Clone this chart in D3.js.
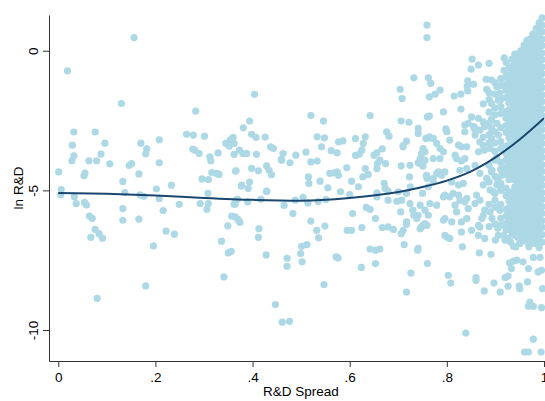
<!DOCTYPE html>
<html>
<head>
<meta charset="utf-8">
<script src="https://cdn.jsdelivr.net/npm/d3@7"></script>
<style>
  body { margin: 0; background: #fff; }
  svg { display: block; font-family: "Liberation Sans", Arial, Helvetica, sans-serif; }
</style>
</head>
<body>
<svg width="545" height="401"></svg>
<script>
// scattered firms, [R&D spread, ln R&D]
var scatterPts = [
  [0.156,0.47],[0.019,-0.72],[0.13,-1.89],[0.283,-2.16],[0.032,-2.91],[0.076,-2.91],[0.264,-2.99],[0.278,-3.02],
  [0.301,-3.06],[0.029,-3.38],[0.096,-3.31],[0.17,-3.31],[0.182,-3.51],[0.208,-3.19],[0.277,-3.52],[0.281,-3.56],
  [0.29,-3.68],[0.032,-3.76],[0.028,-3.94],[0.063,-3.94],[0.079,-3.94],[0.088,-3.7],[0.106,-4.05],[0.18,-3.69],
  [0.208,-4.01],[0.151,-4.04],[0.146,-4.11],[0.166,-4.41],[0.001,-4.34],[0.055,-4.38],[0.053,-4.48],[0.133,-4.68],
  [0.233,-4.82],[0.202,-4.95],[0.312,-3.8],[0.314,-3.94],[0.329,-3.66],[0.345,-3.32],[0.354,-3.2],[0.36,-3.1],
  [0.352,-3.42],[0.362,-3.71],[0.366,-4.3],[0.296,-4.59],[0.309,-4.61],[0.316,-4.36],[0.326,-4.39],[0.331,-4.43],
  [0.308,-5.11],[0.137,-5.08],[0.006,-4.97],[0.005,-5.16],[0.033,-5.23],[0.168,-5.16],[0.176,-5.21],
  [0.037,-5.47],[0.054,-5.43],[0.058,-5.52],[0.064,-5.92],[0.07,-6.0],[0.076,-6.4],[0.084,-6.55],[0.091,-6.71],
  [0.067,-6.68],[0.08,-8.87],[0.133,-5.65],[0.133,-6.07],[0.166,-6.03],[0.208,-5.29],[0.216,-5.72],[0.196,-6.99],
  [0.18,-8.42],[0.222,-6.46],[0.239,-6.57],[0.249,-5.5],[0.292,-5.47],[0.309,-5.47],[0.306,-5.68],[0.336,-6.82],
  [0.341,-8.1],[0.349,-6.27],[0.35,-7.24],[0.356,-7.18],[0.357,-5.92],[0.364,-5.5],[0.369,-5.32],[0.369,-6.02],
  [0.374,-6.15],[0.377,-4.84],[0.39,-5.41],[0.391,-4.93],[0.394,-4.7],[0.413,-6.37],[0.412,-6.68],[0.417,-5.32],
  [0.428,-7.31],[0.429,-5.04],[0.447,-9.09],[0.461,-9.72],[0.476,-9.69],[0.465,-5.54],[0.471,-7.43],[0.471,-7.72],
  [0.759,0.92],[0.759,0.47],[0.732,-0.97],[0.704,-1.38],[0.708,-1.71],[0.762,-0.97],[0.764,-1.65],[0.404,-1.56],
  [0.52,-2.32],[0.546,-2.52],[0.642,-2.32],[0.706,-2.52],[0.722,-2.56],[0.741,-2.78],[0.741,-2.96],[0.381,-2.76],
  [0.394,-2.52],[0.362,-3.32],[0.398,-2.99],[0.407,-3.1],[0.426,-3.09],[0.437,-3.44],[0.443,-3.5],[0.373,-3.56],
  [0.38,-3.68],[0.388,-3.68],[0.408,-3.71],[0.463,-3.68],[0.46,-3.92],[0.477,-4.01],[0.489,-3.74],[0.51,-3.63],
  [0.52,-3.98],[0.533,-3.95],[0.533,-3.08],[0.548,-3.12],[0.542,-3.44],[0.562,-3.58],[0.574,-3.66],[0.577,-3.26],
  [0.586,-3.23],[0.612,-3.15],[0.632,-3.08],[0.628,-3.32],[0.625,-3.56],[0.62,-3.7],[0.612,-3.75],[0.65,-3.74],
  [0.656,-3.66],[0.667,-3.51],[0.676,-2.9],[0.681,-3.06],[0.662,-3.92],[0.674,-4.04],[0.706,-4.12],[0.71,-3.4],
  [0.717,-3.24],[0.741,-4.01],[0.748,-3.89],[0.751,-4.13],[0.757,-3.14],[0.76,-2.37],[0.365,-4.31],[0.398,-4.21],
  [0.412,-4.3],[0.429,-4.12],[0.434,-4.28],[0.439,-4.44],[0.459,-3.89],[0.515,-4.52],[0.516,-4.75],[0.539,-4.67],
  [0.555,-4.91],[0.559,-4.39],[0.568,-4.37],[0.574,-4.34],[0.577,-4.46],[0.594,-4.19],[0.604,-4.67],[0.618,-4.87],
  [0.581,-5.05],[0.6,-5.15],[0.632,-4.22],[0.638,-4.43],[0.627,-4.52],[0.656,-4.22],[0.657,-4.04],[0.671,-4.75],
  [0.673,-4.93],[0.679,-5.03],[0.656,-5.09],[0.656,-5.23],[0.7,-5.05],[0.697,-5.39],[0.723,-4.52],[0.725,-4.87],
  [0.75,-5.11],[0.758,-4.46],[0.429,-5.03],[0.378,-4.81],[0.366,-5.35],[0.362,-5.49],[0.483,-5.83],[0.488,-5.35],
  [0.504,-5.25],[0.514,-5.45],[0.535,-5.4],[0.551,-5.33],[0.52,-6.1],[0.532,-6.43],[0.536,-6.7],[0.549,-6.28],
  [0.606,-5.83],[0.595,-6.43],[0.604,-6.43],[0.625,-6.33],[0.634,-5.61],[0.642,-5.68],[0.653,-6.01],[0.667,-6.33],
  [0.679,-6.31],[0.69,-6.4],[0.679,-5.35],[0.705,-5.77],[0.706,-6.55],[0.712,-6.94],[0.717,-6.21],[0.73,-5.71],
  [0.732,-5.89],[0.738,-6.01],[0.745,-6.37],[0.751,-6.25],[0.74,-7.14],[0.76,-7.62],[0.726,-7.96],[0.717,-8.64],
  [0.642,-7.1],[0.653,-7.14],[0.662,-7.1],[0.653,-7.62],[0.624,-7.76],[0.572,-7.38],[0.576,-7.42],[0.512,-6.94],
  [0.501,-7.0],[0.499,-7.26],[0.502,-7.56],[0.547,-8.37],[0.364,-5.95],[0.372,-6.09],
  [0.852,-0.3],[0.865,-0.51],[0.85,-0.66],[0.887,-0.45],[0.767,-1.17],[0.843,-1.08],[0.855,-1.2],[0.842,-1.27],
  [0.881,-1.02],[0.892,-1.05],[0.882,-1.38],[0.786,-1.41],[0.776,-1.55],[0.815,-1.62],[0.829,-1.55],[0.843,-1.44],
  [0.829,-2.09],[0.793,-2.19],[0.764,-2.34],[0.851,-2.37],[0.865,-2.42],[0.892,-2.46],[0.844,-2.6],[0.857,-2.75],
  [0.798,-2.8],[0.909,-1.53],[0.892,-1.89],[0.903,-1.29],[0.906,-1.77],[0.903,-2.6],
  [0.8,-2.9],[0.806,-3.2],[0.765,-3.12],[0.786,-3.5],[0.755,-3.62],[0.786,-3.86],[0.82,-3.86],[0.83,-3.95],
  [0.837,-3.86],[0.824,-3.38],[0.841,-3.44],[0.865,-3.62],[0.868,-3.26],[0.889,-3.5],[0.903,-3.8],[0.858,-4.1],
  [0.868,-4.39],[0.882,-4.57],[0.783,-4.34],[0.796,-4.34],[0.772,-4.57],[0.824,-4.81],[0.834,-4.75],[0.81,-4.7],
  [0.759,-4.57],[0.762,-4.87],[0.796,-5.17],[0.806,-5.23],[0.824,-5.17],[0.765,-5.47],[0.779,-5.53],[0.837,-5.41],
  [0.844,-5.65],[0.858,-5.47],[0.861,-5.17],[0.817,-5.53],[0.82,-5.77],[0.796,-6.01],[0.81,-6.13],[0.83,-6.13],
  [0.841,-6.01],[0.865,-6.25],[0.872,-6.01],[0.889,-5.77],[0.896,-5.05],[0.903,-4.81],[0.913,-4.46],[0.892,-4.34],
  [0.892,-3.14],[0.906,-3.02],[0.892,-2.78],[0.878,-2.72],[0.858,-2.84],[0.837,-2.9],[0.796,-6.61],[0.806,-6.72],
  [0.83,-6.49],[0.851,-6.43],[0.865,-6.61],[0.878,-6.72],[0.759,-6.25],[0.762,-5.89],[0.906,-6.61],[0.926,-6.72],
  [0.961,-6.61],[0.981,-6.79],
  [0.832,-7.02],[0.867,-7.24],[0.891,-7.29],[0.803,-8.04],[0.808,-8.32],[0.86,-8.12],[0.86,-8.22],[0.877,-8.6],
  [0.897,-8.32],[0.91,-8.64],[0.9,-6.78],[0.92,-6.78],[0.937,-7.0],[0.942,-7.02],[0.929,-7.6],[0.937,-7.53],
  [0.944,-7.5],[0.957,-7.56],[0.933,-7.8],[0.92,-8.12],[0.926,-8.07],[0.926,-8.43],[0.949,-8.43],[0.95,-8.52],
  [0.966,-8.28],[0.968,-7.8],[0.978,-7.4],[0.992,-7.4],[0.988,-7.92],[0.995,-7.86],[0.978,-6.88],[0.997,-8.52],
  [0.971,-9.0],[0.968,-9.15],[0.978,-9.15],[0.995,-9.2],[0.839,-10.11],[0.978,-10.33],[0.96,-10.79],[0.968,-10.79],
  [0.994,-10.79],
  [0.837,-2.66],[0.855,-2.72],[0.858,-3.02],[0.868,-2.84],[0.764,-3.08],[0.772,-3.14],[0.779,-3.32],[0.71,-3.44],
  [0.751,-3.5],[0.748,-3.68],[0.745,-3.86],[0.793,-3.62],[0.817,-3.74],[0.83,-3.44],[0.724,-4.1],[0.745,-4.04],
  [0.755,-3.92],[0.772,-3.86],[0.779,-4.39],[0.789,-4.46],[0.772,-4.7],[0.827,-4.28],[0.841,-4.22],[0.707,-5.35],
  [0.717,-5.11],[0.724,-5.47],[0.745,-5.53],[0.741,-5.89],[0.755,-5.71],[0.793,-5.23],[0.813,-5.11],[0.827,-5.35],
  [0.841,-5.29],[0.793,-6.07],[0.8,-6.67],[0.868,-6.31],[0.71,-6.43],[0.717,-6.13],[0.748,-6.31],[0.755,-6.19],
  [0.741,-7.08],[0.899,-3.92],[0.893,-4.28],[0.905,-4.63],[0.889,-4.99],[0.899,-5.35],[0.909,-5.71],[0.893,-6.0],
  [0.905,-6.36],[0.877,-3.56],[0.868,-5.35],[0.878,-5.71]
];

// firms crowding the left edge of the dense block
var edgePts = [
  [0.911,-1.0],[0.911,-1.25],[0.911,-1.75],[0.911,-2.0],[0.911,-2.25],[0.911,-2.75],[0.911,-3.25],[0.911,-3.5],
  [0.911,-4.0],[0.911,-4.25],[0.911,-4.75],[0.911,-5.0],[0.911,-5.5],[0.911,-6.0],[0.911,-6.25],
  [0.899,-1.15],[0.899,-1.55],[0.899,-2.05],[0.899,-2.3],[0.899,-2.9],[0.899,-3.3],[0.899,-3.6],[0.899,-4.5],
  [0.899,-5.1],[0.899,-5.6],[0.899,-6.2],
  [0.887,-1.5],[0.887,-1.75],[0.887,-2.2],[0.887,-2.6],[0.887,-3.0],[0.887,-3.3],[0.887,-4.1],[0.887,-4.7],
  [0.887,-5.5],[0.887,-6.3],
  [0.875,-1.9],[0.875,-2.55],[0.875,-3.1],[0.875,-3.4],[0.875,-4.8],[0.875,-5.9],
  [0.917,-6.62],[0.931,-6.85],[0.95,-6.9],[0.969,-7.02],[0.99,-7.05],[0.918,-0.7],[0.918,-0.25]
];

// the crowded block of firms with spread close to 1, one column of ln R&D values per spread
var blobX = [0.922, 0.928, 0.934, 0.940, 0.946, 0.952, 0.959, 0.965, 0.971, 0.977, 0.984, 0.990, 0.996];
var blobY = [
  [-0.42,-0.92,-1.18,-1.42,-1.68,-2.18,-2.42,-2.68,-2.92,-3.42,-3.68,-3.92,-4.18,-4.42,-4.92,-5.18,-5.68,-5.92,-6.18,-6.42],
  [-0.62,-0.87,-1.12,-1.37,-1.62,-1.87,-2.12,-2.37,-2.62,-2.87,-3.12,-3.37,-3.62,-3.87,-4.12,-4.37,-4.62,-5.12,-5.37,-5.62,-5.87,-6.12,-6.37],
  [-0.3,-0.55,-0.8,-1.05,-1.3,-1.55,-1.8,-2.05,-2.3,-2.55,-2.8,-3.05,-3.3,-3.55,-3.8,-4.05,-4.3,-4.55,-5.05,-5.3,-5.55,-5.8,-6.05,-6.3,-6.55],
  [-0.12,-0.37,-0.62,-0.87,-1.12,-1.37,-1.62,-1.87,-2.12,-2.37,-2.62,-2.87,-3.12,-3.37,-3.62,-3.87,-4.12,-4.37,-4.62,-4.87,-5.12,-5.37,-5.62,-5.87,-6.12,-6.37,-6.62],
  [-0.18,-0.42,-0.68,-0.92,-1.18,-1.42,-1.68,-1.92,-2.18,-2.42,-2.68,-2.92,-3.18,-3.42,-3.68,-3.92,-4.18,-4.42,-4.68,-4.92,-5.18,-5.42,-5.68,-5.92,-6.18,-6.42,-6.68],
  [0.0,-0.25,-0.5,-0.75,-1.0,-1.25,-1.5,-1.75,-2.0,-2.25,-2.5,-2.75,-3.0,-3.25,-3.5,-3.75,-4.0,-4.25,-4.5,-4.75,-5.0,-5.25,-5.5,-5.75,-6.0,-6.25,-6.5,-6.72],
  [0.2,-0.05,-0.3,-0.55,-0.8,-1.05,-1.3,-1.55,-1.8,-2.05,-2.3,-2.55,-2.8,-3.05,-3.3,-3.55,-3.8,-4.05,-4.3,-4.55,-4.8,-5.05,-5.3,-5.55,-5.8,-6.05,-6.3,-6.55,-6.8],
  [0.37,0.12,-0.12,-0.37,-0.62,-0.87,-1.12,-1.37,-1.62,-1.87,-2.12,-2.37,-2.62,-2.87,-3.12,-3.37,-3.62,-3.87,-4.12,-4.37,-4.62,-4.87,-5.12,-5.37,-5.62,-5.87,-6.12,-6.37,-6.62,-6.82],
  [0.42,0.18,-0.08,-0.32,-0.58,-0.82,-1.08,-1.32,-1.58,-1.82,-2.08,-2.32,-2.58,-2.82,-3.08,-3.32,-3.58,-3.82,-4.08,-4.32,-4.58,-4.82,-5.08,-5.32,-5.58,-5.82,-6.08,-6.32,-6.58,-6.85],
  [0.6,0.35,0.1,-0.15,-0.4,-0.65,-0.9,-1.15,-1.4,-1.65,-1.9,-2.15,-2.4,-2.65,-2.9,-3.15,-3.4,-3.65,-3.9,-4.15,-4.4,-4.65,-4.9,-5.15,-5.4,-5.65,-5.9,-6.15,-6.4,-6.65,-6.88],
  [0.8,0.55,0.3,0.05,-0.2,-0.45,-0.7,-0.95,-1.2,-1.45,-1.7,-1.95,-2.2,-2.45,-2.7,-2.95,-3.2,-3.45,-3.7,-3.95,-4.2,-4.45,-4.7,-4.95,-5.2,-5.45,-5.7,-5.95,-6.2,-6.45,-6.7,-6.9],
  [1.0,0.75,0.5,0.25,0.0,-0.25,-0.5,-0.75,-1.0,-1.25,-1.5,-1.75,-2.0,-2.25,-2.5,-2.75,-3.0,-3.25,-3.5,-3.75,-4.0,-4.25,-4.5,-4.75,-5.0,-5.25,-5.5,-5.75,-6.0,-6.25,-6.5,-6.75,-6.92],
  [1.18,0.92,0.68,0.42,0.18,-0.08,-0.32,-0.58,-0.82,-1.08,-1.32,-1.58,-1.82,-2.08,-2.32,-2.58,-2.82,-3.08,-3.32,-3.58,-3.82,-4.08,-4.32,-4.58,-4.82,-5.08,-5.32,-5.58,-5.82,-6.08,-6.32,-6.58,-6.85]
];

// fitted curve
var fitX = [0, 0.1, 0.2, 0.3, 0.4, 0.5, 0.6, 0.7, 0.75, 0.8, 0.85, 0.9, 0.95, 1.0];
var fitY = [-5.09, -5.12, -5.18, -5.27, -5.34, -5.37, -5.27, -5.06, -4.88, -4.65, -4.32, -3.82, -3.18, -2.42];

var xTicks = [0, 0.2, 0.4, 0.6, 0.8, 1];
var xTickLabels = ['0', '.2', '.4', '.6', '.8', '1'];
var yTicks = [0, -5, -10];
var yTickLabels = ['0', '-5', '-10'];

var svg = d3.select('svg'),
    width = +svg.attr('width'),
    height = +svg.attr('height');

var x = d3.scaleLinear().domain([-0.0191, 1.0021]).range([49, 545]);
var y = d3.scaleLinear().domain([-11.11, 1.28]).range([361, 15]);

var points = scatterPts.concat(edgePts).map(function(d) { return { x: d[0], y: d[1] }; });
blobX.forEach(function(bx, i) {
    blobY[i].forEach(function(by) { points.push({ x: bx, y: by }); });
});

svg.append('g')
    .attr('class', 'points')
  .selectAll('circle')
  .data(points)
  .enter().append('circle')
    .attr('cx', function(d) { return x(d.x); })
    .attr('cy', function(d) { return y(d.y); })
    .attr('r', 3.6)
    .attr('fill', '#add8e6');

var line = d3.line()
    .x(function(d, i) { return x(fitX[i]); })
    .y(function(d, i) { return y(fitY[i]); })
    .curve(d3.curveMonotoneX);

svg.append('path')
    .datum(fitX)
    .attr('d', line)
    .attr('fill', 'none')
    .attr('stroke', '#1a476f')
    .attr('stroke-width', 2);

// axes
var yAxis = svg.append('g')
    .attr('transform', 'translate(49,0)')
    .call(d3.axisLeft(y).tickValues(yTicks).tickSize(6).tickSizeOuter(0)
        .tickFormat(function(d, i) { return yTickLabels[i]; }));

yAxis.selectAll('text')
    .attr('x', null)
    .attr('dy', null)
    .attr('text-anchor', 'middle')
    .attr('transform', 'translate(-11,0) rotate(-90)');

var xAxis = svg.append('g')
    .attr('transform', 'translate(0,361)')
    .call(d3.axisBottom(x).tickValues(xTicks).tickSize(6).tickSizeOuter(0)
        .tickFormat(function(d, i) { return xTickLabels[i]; }));

xAxis.selectAll('text').attr('y', 21).attr('dy', null);

svg.selectAll('.domain, .tick line').attr('stroke', '#333');
svg.selectAll('.tick text')
    .attr('fill', '#000')
    .style('font-size', '13.5px')
    .style('font-family', '"Liberation Sans", Arial, Helvetica, sans-serif');

svg.append('text')
    .attr('transform', 'translate(23,188) rotate(-90)')
    .attr('text-anchor', 'middle')
    .style('font-size', '13.5px')
    .text('ln R&D');

svg.append('text')
    .attr('x', 301)
    .attr('y', 396)
    .attr('text-anchor', 'middle')
    .style('font-size', '13.5px')
    .text('R&D Spread');
</script>
</body>
</html>
